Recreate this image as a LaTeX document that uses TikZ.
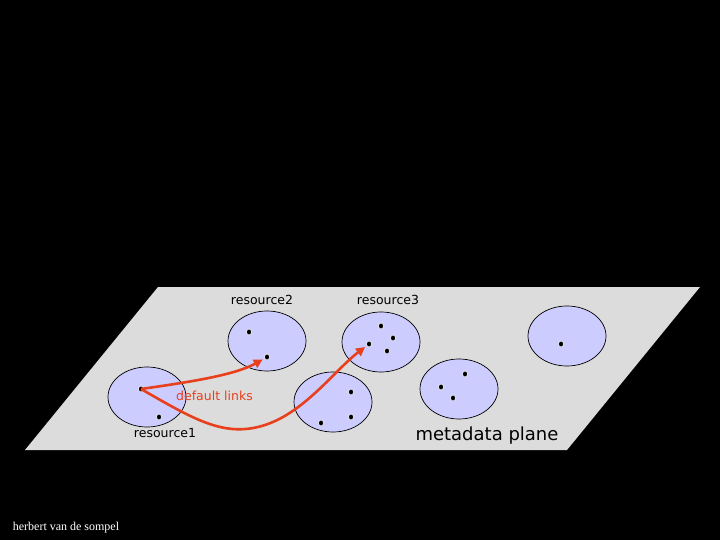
\documentclass[tikz,border=0pt]{standalone}
\usepackage{fontspec}
\setmainfont{DejaVu Sans}
\newfontfamily\sigfont{Liberation Serif}
\usetikzlibrary{arrows.meta,shapes.geometric}
\definecolor{planegray}{RGB}{220,220,220}
\definecolor{blobfill}{RGB}{204,204,255}
\definecolor{linkred}{RGB}{232,64,28}
\tikzset{
  blob/.style={ellipse, draw=black, line width=0.7pt, fill=blobfill, minimum width=78pt, minimum height=60pt, inner sep=0pt},
  dot/.style={ellipse, fill=black, draw=white, line width=0.6pt, minimum width=5pt, minimum height=6pt, inner sep=0pt},
  lbl/.style={font=\fontsize{12.5}{14}\selectfont, text=black, inner sep=0pt},
  link/.style={draw=linkred, line width=2.6pt, -{Triangle[length=9pt,width=9pt]}, shorten >=2pt}
}
\begin{document}
\begin{tikzpicture}[x=1pt,y=-1pt]
\fill[black] (0,0) rectangle (720,540);
\useasboundingbox (0,0) rectangle (720,540);
\fill[planegray] (158,287) coordinate (p1) -- (700,287) coordinate (p2) -- (567,450) coordinate (p3) -- (25,450) coordinate (p4) -- cycle;

\node[blob] (r1) at (147,397) {};
\node[blob] (r2) at (267,341) {};
\node[blob] (r3) at (381,342) {};
\node[blob] (r4) at (333,402) {};
\node[blob] (r5) at (459,389) {};
\node[blob] (r6) at (567,336) {};

\node[dot] (d11) at (141,389) {};
\node[dot] (d12) at (159,417) {};
\node[dot] (d21) at (249,332) {};
\node[dot] (d22) at (267,357) {};
\node[dot] (d31) at (381,326) {};
\node[dot] (d32) at (393,338) {};
\node[dot] (d33) at (369,344) {};
\node[dot] (d34) at (387,351) {};
\node[dot] (d41) at (351,392) {};
\node[dot] (d42) at (351,417) {};
\node[dot] (d43) at (321,423) {};
\node[dot] (d51) at (465,374) {};
\node[dot] (d52) at (441,387) {};
\node[dot] (d53) at (453,398) {};
\node[dot] (d61) at (561,344) {};

\draw[link] (d11.center) .. controls (190,382) and (235,375) .. (d22);
\draw[link] (d11.center) .. controls (195,420) and (225,438) .. (265,425) .. controls (305,412) and (335,370) .. (d33);

\node[lbl] (t2) at (262,300) {resource2};
\node[lbl] (t3) at (388,300) {resource3};
\node[lbl] (t1) at (165,433) {resource1};
\node[lbl, text=linkred, anchor=west] (tl) at (176,396) {default links};
\node[font=\fontsize{18}{21}\selectfont, inner sep=0pt] (tm) at (487,436) {metadata plane};
\node[text=white, font=\sigfont\fontsize{12}{14}\selectfont, inner sep=0pt] (sig) at (66,528) {herbert van de sompel};
\end{tikzpicture}
\end{document}
